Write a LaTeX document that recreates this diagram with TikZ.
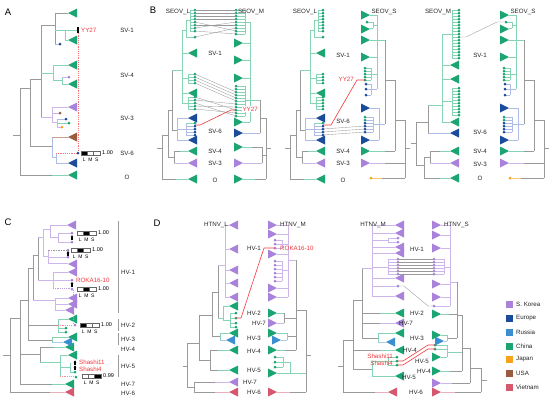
\documentclass[tikz,border=0pt]{standalone}
\usepackage{fontspec}
\setmainfont{Liberation Sans}
\definecolor{skorea}{HTML}{A983DB}
\definecolor{europe}{HTML}{1A4C9B}
\definecolor{russia}{HTML}{3B8FD1}
\definecolor{china}{HTML}{1BA572}
\definecolor{japan}{HTML}{F6A21C}
\definecolor{usa}{HTML}{9A5B3F}
\definecolor{vietnam}{HTML}{D6586E}
\definecolor{grb}{HTML}{9A9A9A}
\definecolor{lgb}{HTML}{86D4B4}
\definecolor{lpb}{HTML}{CDB6EA}
\definecolor{lbb}{HTML}{AFBCE6}
\definecolor{pkb}{HTML}{EAB0BC}
\definecolor{brb}{HTML}{C6A08C}
\definecolor{rdl}{HTML}{F0383C}
\tikzset{
 gr/.style={draw=grb,line width=0.5pt},
 lg/.style={draw=lgb,line width=0.5pt},
 lp/.style={draw=lpb,line width=0.5pt},
 lb/.style={draw=lbb,line width=0.5pt},
 pk/.style={draw=pkb,line width=0.5pt},
 bb/.style={draw=brb,line width=0.5pt},
 lr/.style={draw=russia!45,line width=0.5pt},
 tg/.style={draw=grb,line width=0.35pt},
 redl/.style={draw=rdl,line width=0.6pt},
 reddash/.style={draw=rdl!70,line width=0.5pt,dash pattern=on 1.2pt off 1pt},
 pdash/.style={draw=skorea!80,line width=0.5pt,dash pattern=on 1.2pt off 1pt},
 pkdash/.style={draw=rdl!55,line width=0.5pt,dash pattern=on 1.2pt off 1pt},
 gdash/.style={draw=grb,line width=0.5pt,dash pattern=on 1.5pt off 1pt},
 lab/.style={font=\fontsize{6.2}{7}\selectfont,inner sep=0pt,text=black!85},
 rlab/.style={font=\fontsize{6.2}{7}\selectfont,inner sep=0pt,text=rdl},
 pan/.style={font=\fontsize{9.5}{11}\selectfont,inner sep=0pt},
 val/.style={font=\fontsize{5.5}{6}\selectfont,inner sep=0pt},
 lms/.style={font=\fontsize{5}{6}\selectfont,inner sep=0pt},
 cell/.style={draw=black!60,line width=0.3pt},
}
\newcommand{\HB}[4][gr]{\draw[#1] (#2,#4) -- (#3,#4);}
\newcommand{\VB}[4][gr]{\draw[#1] (#2,#3) -- (#2,#4);}
\newcommand{\TL}[3]{\fill[#1] (#2,#3) -- ++(9,-4.5) -- ++(0,9) -- cycle;}
\newcommand{\TR}[3]{\fill[#1] (#2,#3) -- ++(-9,-4.5) -- ++(0,9) -- cycle;}
\newcommand{\DT}[3]{\fill[#1] (#2,#3) circle (1.5pt);}
\newcommand{\MK}[2]{\fill[black] (#1-1.4,#2-0.6) -- (#1,#2-2.6) -- (#1+1.4,#2-0.6) -- cycle; \fill[black] (#1-0.6,#2-0.8) rectangle (#1+0.6,#2+2);}
\newcommand{\LMS}[6]{%
 \draw[cell,fill=#3] (#1,#2-2.2) rectangle ++(6.3,4.4);
 \draw[cell,fill=#4] (#1+6.3,#2-2.2) rectangle ++(6.3,4.4);
 \draw[cell,fill=#5] (#1+12.6,#2-2.2) rectangle ++(6.3,4.4);
 \node[val,anchor=west] at (#1+21,#2) {#6};
 \node[lms] at (#1+3.15,#2+6.5) {L};
 \node[lms] at (#1+9.45,#2+6.5) {M};
 \node[lms] at (#1+15.75,#2+6.5) {S};}
% SEOV_L tree (left side, tips at x=195)
\newcommand{\TreeSL}{%
 \HB{157}{162}{148}
 \VB{162}{135}{179}
 \HB{162}{176}{179}\HB[lg]{176}{188}{179}\TL{china}{188}{179}
 \HB{162}{168}{135}
 \VB{168}{110}{157}
 \HB{168}{174}{157}
 \VB{174}{151}{163}
 \HB{174}{180}{151}\HB[lg]{180}{188}{151}\TL{china}{188}{151}
 \HB[lp]{174}{188}{163}\TL{skorea}{188}{163}
 \HB{168}{172}{110}
 \VB{172}{70}{130}
 \HB[lg]{172}{182}{70}
 \VB[lg]{182}{30}{103}
 \HB[lg]{182}{186}{30}
 \VB[lg]{186}{20}{37}
 \HB[lg]{186}{190}{20}
 \VB[lg]{190}{10}{31}
 \foreach \y in {10,13,...,31} {\HB[lg]{190}{195}{\y}\DT{china}{195}{\y}}
 \HB[lg]{186}{195}{37}\DT{china}{195}{37}
 \HB[lg]{182}{188}{53}\TL{china}{188}{53}
 \HB[lg]{182}{188}{78}
 \VB[lg]{188}{74}{83}
 \foreach \y in {74,77,80,83} {\HB[lg]{188}{195}{\y}\DT{china}{195}{\y}}
 \HB[lg]{182}{188}{93}\TL{china}{188}{93}
 \HB[lg]{182}{188}{103}
 \VB[lg]{188}{97}{109}
 \foreach \y in {97,100,...,109} {\HB[lg]{188}{195}{\y}\DT{china}{195}{\y}}
 \HB{172}{177}{130}
 \VB[lb]{177}{118}{140}
 \HB[lb]{177}{188}{118}\TL{europe}{188}{118}
 \HB[lb]{177}{188}{140}\TL{europe}{188}{140}
 \HB[lb]{177}{186}{129}
 \VB[lb]{186}{123}{135}
 \HB[lg]{186}{195}{123}\DT{china}{195}{123}
 \foreach \y in {126,129,132,135} {\HB[lb]{186}{195}{\y}\DT{europe}{195}{\y}}
}
% SEOV_S tree (right side, tips at x=361)
\newcommand{\TreeSS}{%
 \HB{405}{410}{148}
 \VB{405}{120}{178}
 \HB{405}{382}{178}\draw[draw=japan!60,line width=0.5pt] (382,178)--(371,178);\DT{japan}{371}{178}
 \HB{405}{385}{163}\HB[lp]{385}{370}{163}\TR{skorea}{370}{163}
 \HB{405}{395}{120}
 \VB{395}{80}{151}
 \HB{395}{385}{151}\HB[lg]{385}{370}{151}\TR{china}{370}{151}
 \HB{395}{385}{80}
 \VB{385}{40}{124}
 \HB[lb]{385}{379}{124}
 \VB[lb]{379}{108}{140}
 \HB[lb]{379}{370}{108}\TR{europe}{370}{108}
 \HB[lb]{379}{370}{140}\TR{europe}{370}{140}
 \HB[lb]{379}{373}{124}
 \VB[lb]{373}{117}{132}
 \foreach \y/\c in {117/china,120/china,123/europe,126/europe,129/europe,132/europe} {\HB[lb]{373}{365}{\y}\DT{\c}{365}{\y}}
 \HB[lg]{385}{377}{40}
 \VB[lg]{377}{15}{89}
 \HB[lg]{377}{370}{15}\TR{china}{370}{15}
 \HB[lg]{377}{373}{25}
 \VB[lg]{373}{22}{28}
 \HB[lg]{373}{367}{22}\DT{china}{367}{22}
 \HB[lg]{373}{370}{28}\TR{china}{370}{29}
 \HB[lg]{377}{370}{40}\TR{china}{370}{40}
 \HB[lg]{377}{370}{57}\TR{china}{370}{57}
 \HB[lg]{377}{371}{74}
 \VB[lg]{371}{68}{80}
 \foreach \y in {68,71,...,80} {\HB[lg]{371}{365}{\y}\DT{china}{365}{\y}}
 \HB[lb]{377}{371}{89}
 \VB[lb]{371}{84}{95}
 \foreach \y in {84,89,95} {\HB[lb]{371}{366}{\y}\DT{europe}{366}{\y}}
}
\begin{document}
\begin{tikzpicture}[x=1pt,y=-1pt]
\useasboundingbox (0,0) rectangle (550,400);
\fill[white] (0,0) rectangle (550,400);
%%%%%%%%%%%%%%%%%%%% Panel A
\node[pan] (pA) at (8,12) {A};
\HB{13}{20}{135}
\VB{20}{88}{175}
\HB{20}{52}{175}\HB[lg]{52}{68}{175}\TL{china}{68}{175}
\HB{20}{30}{88}
\VB{30}{79}{146}
\HB{30}{52}{146}
\VB[lb]{52}{137}{157}
\HB[bb]{52}{68}{137}\TL{usa}{68}{137}
\HB[lb]{52}{56}{157}
\VB[lb]{56}{153}{163}
\draw[reddash] (56,153)--(77,153);
\HB[lb]{56}{68}{163}\TL{europe}{68}{163}
\DT{europe}{78}{153}
\HB{30}{41}{79}
\VB{41}{25}{117}
\HB{41}{55}{25}
\VB{55}{13}{44}
\HB{55}{68}{13}\TL{china}{68}{13}
\HB[lg]{55}{65}{30}
\VB[lg]{65}{30}{40}
\HB[lg]{65}{77}{30}
\HB[lg]{65}{68}{40}\TL{china}{68}{40}
\HB[lb]{55}{60}{44}\DT{europe}{60}{44}
\HB[lg]{41}{53}{73}
\VB[lg]{53}{65}{80}
\HB[lg]{53}{68}{65}\TL{china}{68}{65}
\HB[lg]{53}{62}{80}
\VB[lg]{62}{77}{84}
\HB[lp]{62}{69}{77}\DT{skorea}{69}{77}
\HB[lg]{62}{68}{84}\TL{china}{68}{84}
\HB[lp]{41}{52}{117}
\VB[lp]{52}{107}{122}
\HB[lp]{52}{68}{107}\TL{skorea}{68}{107}
\HB[lp]{52}{60}{113}\DT{usa}{60}{113}
\HB[lp]{52}{57}{122}
\VB[lp]{57}{119}{127}
\HB[lb]{57}{66}{119}\DT{europe}{66}{119}
\HB[lg]{57}{69}{123}\DT{china}{69}{123}
\HB[lp]{57}{62}{127}\DT{japan}{62}{127}
\draw[reddash] (78,31)--(78,152);
\fill[black] (76.6,27.3) rectangle (79.2,32.7);
\node[rlab,anchor=west] (yyA) at (81,30) {YY27};
\LMS{81}{153}{black}{white}{white}{1.00}
\node[lab] (a1) at (127,30) {SV-1};
\node[lab] (a4) at (127,75) {SV-4};
\node[lab] (a3) at (127,118) {SV-3};
\node[lab] (a6) at (127,153) {SV-6};
\node[lab] (a0) at (127,177) {O};
%%%%%%%%%%%%%%%%%%%% Panel B
\node[pan] (pB) at (153,10) {B};
% B1
\TreeSL
\HB{266}{271}{148}
\VB{266}{118}{179}
\HB{266}{255}{179}\HB[lg]{255}{243}{179}\TR{china}{243}{179}
\HB{266}{262}{155}
\VB{262}{147}{163}
\HB{262}{252}{147}\HB[lg]{252}{243}{147}\TR{china}{243}{147}
\HB[lp]{262}{243}{163}\TR{skorea}{243}{163}
\HB{266}{260}{118}
\VB{260}{100}{133}
\HB[lb]{260}{243}{133}\TR{europe}{243}{133}
\HB[lg]{260}{250}{100}
\VB[lg]{250}{22}{122}
\HB[lg]{250}{243}{122}\TR{china}{243}{122}
\HB[lg]{250}{245}{22}
\VB[lg]{245}{10}{34}
\foreach \y in {10,13,...,34} {\HB[lg]{245}{236}{\y}\DT{china}{236}{\y}}
\HB[lg]{250}{243}{43}\TR{china}{243}{43}
\HB[lg]{250}{243}{60}\TR{china}{243}{60}
\HB[lg]{250}{243}{78}\TR{china}{243}{78}
\HB[lg]{250}{245}{100}
\VB[lg]{245}{86}{116}
\foreach \y in {86,89,...,116} {\HB[lg]{245}{236}{\y}\DT{china}{236}{\y}}
\foreach \y in {10,13,16,19} {\draw[tg] (195,\y)--(236,\y);}
\foreach \a/\b in {22/31,25/25,28/22,31/34,37/28} {\draw[tg] (195,\a)--(236,\b);}
\foreach \a/\b in {74/92,77/95,80/98,83/101} {\draw[tg] (195,\a)--(236,\b);}
\foreach \a/\b in {97/110,100/104,103/116,106/107,109/113} {\draw[tg] (195,\a)--(236,\b);}
\draw[redl] (195,125)--(200,125)--(231,110)--(236,110);
\node[rlab,anchor=west,fill=white,inner sep=0.4pt] (yyB1) at (242,109) {YY27};
\node[lab] (s1) at (178,12) {SEOV\_L};
\node[lab] (s2) at (251,12) {SEOV\_M};
\node[lab] (b11) at (215,53) {SV-1};
\node[lab] (b16) at (215,131) {SV-6};
\node[lab] (b14) at (215,151) {SV-4};
\node[lab] (b13) at (215,163) {SV-3};
\node[lab] (b10) at (215,180) {O};
% B2
\begin{scope}[xshift=128pt]\TreeSL\end{scope}
\TreeSS
\draw[tg] (323,129)--(365,126);
\draw[tg] (323,132)--(365,129);
\draw[tg] (323,135)--(365,132);
\draw[redl] (323,125)--(331,125)--(357,80)--(365,80);
\node[rlab,anchor=east] (yyB2) at (354,79) {YY27};
\node[lab] (s3) at (305,12) {SEOV\_L};
\node[lab] (s4) at (384,12) {SEOV\_S};
\node[lab] (b21) at (343,55) {SV-1};
\node[lab] (b26) at (343,121) {SV-6};
\node[lab] (b24) at (343,151) {SV-4};
\node[lab] (b23) at (343,163) {SV-3};
\node[lab] (b20) at (343,180) {O};
% B3
\HB{411}{416}{143}
\VB{416}{122}{165}
\HB{416}{424}{165}
\VB{424}{157}{178}
\HB{424}{440}{178}\HB[lg]{440}{450}{178}\TL{china}{450}{178}
\HB{424}{430}{157}
\VB{430}{151}{163}
\HB{430}{440}{151}\HB[lg]{440}{450}{151}\TL{china}{450}{151}
\HB[lp]{430}{450}{163}\TL{skorea}{450}{163}
\HB{416}{428}{122}
\VB{428}{105}{133}
\HB[lb]{428}{450}{133}\TL{europe}{450}{133}
\HB[lg]{428}{442}{105}
\VB[lg]{442}{34}{122}
\HB[lg]{442}{450}{122}\TL{china}{450}{122}
\HB[lg]{442}{452}{34}
\VB[lg]{452}{10}{58}
\foreach \y in {10,13,...,58} {\HB[lg]{452}{459}{\y}\DT{china}{459}{\y}}
\HB[lg]{442}{450}{65}\TL{china}{450}{65}
\HB[lg]{442}{450}{79}\TL{china}{450}{79}
\HB[lg]{442}{452}{101}
\VB[lg]{452}{88}{115}
\foreach \y in {88,91,...,115} {\HB[lg]{452}{459}{\y}\DT{china}{459}{\y}}
\begin{scope}[xshift=139pt]\TreeSS\end{scope}
\draw[tg] (459,37)--(466,37)--(497,22)--(504,22);
\node[lab] (s5) at (438,12) {SEOV\_M};
\node[lab] (s6) at (523,12) {SEOV\_S};
\node[lab] (b31) at (480,55) {SV-1};
\node[lab] (b36) at (480,132) {SV-6};
\node[lab] (b34) at (480,151) {SV-4};
\node[lab] (b33) at (480,164) {SV-3};
\node[lab] (b30) at (480,178) {O};
%%%%%%%%%%%%%%%%%%%% Panel C
\node[pan] (pC) at (8,222) {C};
\HB{3}{10}{355}
\VB{10}{318}{392}
\HB{10}{50}{392}\HB[pk]{50}{65}{392}\TL{vietnam}{65}{392}
\HB{10}{20}{318}
\VB{20}{300}{384}
\HB{20}{52}{384}\HB[lg]{52}{65}{384}\TL{china}{65}{384}
\HB{20}{40}{354}
\VB{40}{347}{362}
\HB{40}{54}{347}\HB[lg]{54}{65}{347}\TL{china}{65}{347}
\HB[lg]{40}{60}{362}
\VB[lg]{60}{355}{376}
\HB[lg]{60}{68}{355}\TL{china}{68}{355}
\HB[lg]{60}{70}{367}
\VB[lg]{70}{363}{372}
\HB[lg]{70}{75}{372}\DT{china}{75}{372}
\MK{75}{363}
\MK{75}{368}
\draw[pkdash] (60,376)--(74,376);\DT{china}{76}{377}
\HB{20}{28}{300}
\VB{28}{268}{340}
\HB{28}{52}{340}
\VB[lg]{52}{337}{342}
\HB[lg]{52}{68}{337}\TL{china}{68}{337}
\HB[lr]{52}{63}{342}\TL{russia}{63}{342}
\HB{28}{58}{325}
\VB[lg]{58}{319}{332}
\HB[lg]{58}{68}{319}\TL{china}{68}{319}
\HB[lg]{58}{66}{328}\DT{china}{66}{328}
\HB[lg]{58}{66}{332}\DT{china}{66}{332}
\draw[pkdash] (58,325)--(73,325);\DT{skorea}{75}{325}
\draw[pdash] (73,290)--(73,324);
\HB{28}{33}{268}
\VB{33}{255}{300}
\HB[lp]{33}{55}{300}
\VB[lp]{55}{298}{310}
\HB[lp]{55}{68}{298}\TL{skorea}{68}{298}
\HB[lp]{55}{68}{304}\TL{skorea}{68}{304}
\HB[lp]{55}{65}{310}\TL{skorea}{65}{310}
\HB{33}{38}{255}
\VB{38}{237}{280}
\HB[lp]{38}{53}{280}
\VB[lp]{53}{272}{288}
\HB[lp]{53}{68}{272}\TL{skorea}{68}{272}
\HB[lp]{53}{72}{280}\DT{skorea}{72}{280}
\MK{72}{284.5}
\draw[pdash] (53,288)--(70,288);\DT{skorea}{72}{289}
\HB[lp]{38}{43}{237}
\VB[lp]{43}{229}{256}
\HB[lp]{43}{50}{229}
\VB[lp]{50}{225}{237}
\HB[lp]{50}{67}{225}\TL{skorea}{67}{225}
\HB[lp]{50}{58}{237}
\VB[lp]{58}{233}{242}
\HB[lp]{58}{72}{233}\DT{skorea}{72}{233}
\HB[lp]{58}{72}{242}\DT{skorea}{72}{242}
\MK{72}{237.8}
\HB[lp]{43}{48}{256}
\VB[lp]{48}{250}{263}
\draw[gdash] (48,250)--(66,250);\DT{skorea}{68}{250}
\HB[lp]{48}{68}{257}\DT{skorea}{68}{257}
\MK{68}{253.7}
\HB[lp]{48}{68}{263}\TL{skorea}{68}{264}
\LMS{77}{233}{white}{black}{white}{1.00}
\LMS{71}{250}{white}{black}{white}{1.00}
\LMS{77}{289}{white}{black}{white}{1.00}
\LMS{80}{325}{black}{white}{white}{1.00}
\LMS{82}{376}{white}{white}{black}{0.99}
\node[rlab,anchor=west] (roC) at (76,280) {ROKA16-10};
\node[rlab,anchor=west] (sh11C) at (79,362) {Shashi11};
\node[rlab,anchor=west] (sh4C) at (79,369) {Shashi4};
\draw[gr] (118,221)--(118,313);
\draw[gr] (118,319)--(118,331);
\draw[gr] (118,333)--(118,345);
\draw[gr] (118,355)--(118,377);
\node[lab,anchor=west] (c1) at (121,272) {HV-1};
\node[lab,anchor=west] (c2) at (121,325) {HV-2};
\node[lab,anchor=west] (c3) at (121,339) {HV-3};
\node[lab,anchor=west] (c4) at (121,349) {HV-4};
\node[lab,anchor=west] (c5) at (121,366) {HV-5};
\node[lab,anchor=west] (c7) at (121,384) {HV-7};
\node[lab,anchor=west] (c6) at (121,393) {HV-6};
%%%%%%%%%%%%%%%%%%%% Panel D
\node[pan] (pD) at (157,223) {D};
% D1 left HTNV_L
\HB{183}{187}{366}
\VB{187}{343}{387}
\HB{187}{194}{387}
\VB{194}{382}{392}
\HB{194}{215}{382}\HB[lp]{215}{229}{382}\TL{skorea}{229}{382}
\HB{194}{215}{392}\HB[pk]{215}{229}{392}\TL{vietnam}{229}{392}
\HB{187}{199}{343}
\VB{199}{315}{360}
\HB{199}{210}{360}
\VB{210}{350}{370}
\HB{210}{218}{350}\HB[lg]{218}{229}{350}\TL{china}{229}{350}
\HB{210}{218}{370}\HB[lg]{218}{229}{370}\TL{china}{229}{370}
\HB{199}{212}{315}
\VB{212}{292}{336}
\HB{212}{220}{336}
\VB[lg]{220}{333}{340}
\HB[lg]{220}{229}{333}\TL{china}{229}{333}
\HB[lr]{220}{226}{340}\TL{russia}{226}{340}
\HB{212}{218}{292}
\VB{218}{265}{318}
\HB[lg]{218}{223}{318}
\VB[lg]{223}{306}{320}
\HB[lg]{223}{229}{306}\TL{china}{229}{306}
\HB[lg]{223}{230}{320}
\VB[lg]{230}{313}{327}
\foreach \y in {313,318,323,327} {\HB[lg]{230}{236}{\y}\DT{china}{236}{\y}}
\HB[lp]{218}{225}{265}
\VB[lp]{225}{225}{297}
\foreach \y in {225,249,270,283,297} {\HB[lp]{225}{229}{\y}\TL{skorea}{229}{\y}}
% D1 right HTNV_M
\HB{306}{311}{355}
\VB{306}{310}{392}
\HB{306}{290}{392}\HB[pk]{290}{277}{392}\TR{vietnam}{277}{392}
\HB[lg]{306}{290}{373}
\VB[lg]{290}{362}{373}
\HB[lg]{290}{277}{373}\TR{china}{277}{373}
\HB[lg]{290}{283}{362}
\VB[lg]{283}{357}{367}
\foreach \y in {357,362,367} {\HB[lg]{283}{275}{\y}\DT{china}{275}{\y}}
\HB{306}{296}{310}
\VB{296}{260}{350}
\HB{296}{285}{350}\HB[lg]{285}{277}{350}\TR{china}{277}{350}
\HB{296}{287}{336}
\VB[lg]{287}{333}{340}
\HB[lg]{287}{277}{333}\TR{china}{277}{333}
\HB[lr]{287}{281}{340}\TR{russia}{281}{340}
\HB{296}{284}{318}
\VB{284}{313}{323}
\HB[lg]{284}{277}{313}\TR{china}{277}{313}
\HB[lp]{284}{277}{323}\TR{skorea}{277}{323}
\HB[lp]{296}{288}{260}
\VB[lp]{288}{225}{297}
\foreach \y in {225,234,254,288,297} {\HB[lp]{288}{277}{\y}\TR{skorea}{277}{\y}}
\HB[lp]{288}{282}{244}
\VB[lp]{282}{240}{248}
\foreach \y in {240,244,248} {\HB[lp]{282}{275}{\y}\DT{skorea}{275}{\y}}
\HB[lp]{288}{282}{270}
\VB[lp]{282}{261}{281}
\foreach \y in {261,265,...,281} {\HB[lp]{282}{275}{\y}\DT{skorea}{275}{\y}}
\draw[redl] (236,318)--(241,318)--(264,248)--(275,248);
\node[rlab,anchor=west] (roD) at (280,248) {ROKA16-10};
\node[lab,anchor=east] (h1) at (228,225) {HTNV\_L};
\node[lab,anchor=west] (h2) at (280,225) {HTNV\_M};
\node[lab] (d11) at (254,248) {HV-1};
\node[lab] (d12) at (254,313) {HV-2};
\node[lab] (d17) at (259,323) {HV-7};
\node[lab] (d13) at (254,338) {HV-3};
\node[lab] (d14) at (254,351) {HV-4};
\node[lab] (d15) at (254,370) {HV-5};
\node[lab] (d17b) at (250,382) {HV-7};
\node[lab] (d16) at (254,392) {HV-6};
% D2 left HTNV_M
\HB{338}{343}{366}
\VB{343}{340}{392}
\HB{343}{375}{392}\HB[pk]{375}{388}{392}\TL{vietnam}{388}{392}
\HB{343}{353}{340}
\VB{353}{300}{369}
\HB{353}{372}{369}
\VB[lg]{372}{361}{376}
\HB[lg]{372}{395}{376}\TL{china}{395}{376}
\HB[lg]{372}{388}{361}
\VB[lg]{388}{357}{365}
\foreach \y in {357,361,365} {\HB[lg]{388}{397}{\y}\DT{china}{397}{\y}}
\HB{353}{380}{350}\HB[lg]{380}{395}{350}\TL{china}{395}{350}
\HB{353}{362}{300}
\VB{362}{268}{338}
\HB{362}{378}{338}
\VB[lg]{378}{333}{342}
\HB[lg]{378}{395}{333}\TL{china}{395}{333}
\HB[lr]{378}{386}{342}\TL{russia}{386}{342}
\HB{362}{380}{323}\HB[lp]{380}{395}{323}\TL{skorea}{395}{323}
\HB{362}{380}{313}\HB[lg]{380}{395}{313}\TL{china}{395}{313}
\HB[lp]{362}{372}{268}
\VB[lp]{372}{225}{296}
\foreach \y in {225,233,247,253,278,296} {\HB[lp]{372}{395}{\y}\TL{skorea}{395}{\y}}
\HB[lp]{372}{388}{240}
\VB[lp]{388}{238}{242}
\foreach \y in {238,242} {\HB[lp]{388}{398}{\y}\DT{skorea}{398}{\y}}
\HB[lp]{372}{388}{267}
\VB[lp]{388}{259}{274}
\foreach \y in {259,262,...,274} {\HB[lp]{388}{398}{\y}\DT{skorea}{398}{\y}}
\HB[lp]{372}{398}{286}\DT{skorea}{398}{286}
% D2 right HTNV_S
\HB{481}{487}{380}
\VB{481}{368}{392}
\HB{481}{455}{392}\HB[pk]{455}{441}{392}\TR{vietnam}{441}{392}
\HB{481}{470}{368}
\VB{470}{348}{383}
\HB{470}{452}{383}\HB[lp]{452}{441}{383}\TR{skorea}{441}{383}
\HB{470}{462}{348}
\VB{462}{315}{371}
\HB{462}{450}{371}\HB[lg]{450}{441}{371}\TR{china}{441}{371}
\HB[lg]{462}{447}{352}
\VB[lg]{447}{345}{357}
\HB[lg]{447}{441}{357}\TR{china}{441}{357}
\HB[lg]{447}{435}{345}\DT{china}{435}{345}
\HB[lg]{447}{435}{349}\DT{china}{435}{349}
\HB{462}{457}{315}
\VB{457}{282}{338}
\HB{457}{447}{338}
\VB[lg]{447}{335}{341}
\HB[lg]{447}{441}{335}\TR{china}{441}{335}
\HB[lr]{447}{444}{341}\TR{russia}{444}{341}
\HB{457}{449}{314}\HB[lg]{449}{441}{314}\TR{china}{441}{314}
\HB[lp]{457}{450}{282}
\VB[lp]{450}{225}{306}
\foreach \y in {225,235,248,284,297} {\HB[lp]{450}{441}{\y}\TR{skorea}{441}{\y}}
\HB[lp]{450}{444}{267}
\VB[lp]{444}{259}{274}
\foreach \y in {259,262,...,274} {\HB[lp]{444}{434}{\y}\DT{skorea}{434}{\y}}
\HB[lp]{450}{434}{306}\DT{skorea}{434}{306}
\foreach \y in {259,262,...,274} {\draw[tg] (398,\y)--(434,\y);}
\draw[tg] (398,286)--(404,286)--(428,306)--(434,306);
\draw[redl] (397,361)--(403,361)--(428,345)--(435,345);
\draw[redl] (397,365)--(403,365)--(428,349)--(435,349);
\node[rlab,anchor=east] (sh11D) at (393,356) {Shashi11};
\node[rlab,anchor=east] (sh4D) at (393,363) {Shashi4};
\node[lab,anchor=east] (h3) at (386,225) {HTNV\_M};
\node[lab,anchor=west] (h4) at (444,225) {HTNV\_S};
\node[lab] (d21) at (417,249) {HV-1};
\node[lab] (d22) at (417,313) {HV-2};
\node[lab] (d27) at (406,323) {HV-7};
\node[lab] (d23) at (417,338) {HV-3};
\node[lab] (d24) at (410,350) {HV-4};
\node[lab] (d25r) at (422,361) {HV-5};
\node[lab] (d24r) at (424,371) {HV-4};
\node[lab] (d25) at (409,377) {HV-5};
\node[lab] (d26) at (416,392) {HV-6};
%%%%%%%%%%%%%%%%%%%% Legend
\foreach \c/\t/\y/\n in {skorea/S. Korea/304/g1,europe/Europe/318/g2,russia/Russia/332/g3,china/China/346/g4,japan/Japan/359/g5,usa/USA/373/g6,vietnam/Vietnam/387/g7} {
 \fill[\c] (506,\y-3.5) rectangle (513,\y+3.5);
 \node[lab,anchor=west] (\n) at (516,\y) {\t};
}
\end{tikzpicture}
\end{document}
